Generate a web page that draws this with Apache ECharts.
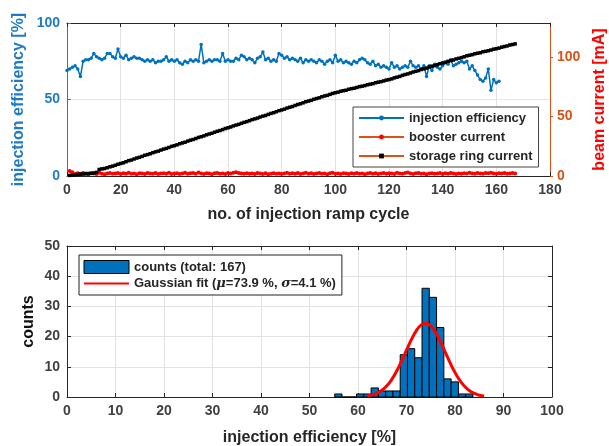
<!DOCTYPE html>
<html>
<head>
<meta charset="utf-8">
<script src="https://cdn.jsdelivr.net/npm/echarts@6/dist/echarts.min.js"></script>
<style>
  html, body { margin: 0; padding: 0; background: #fff; }
  #chart { width: 609px; height: 446px; }
</style>
</head>
<body>
<div id="chart"></div>
<script>
// injection efficiency [%], one value per ramp cycle starting at cycle 0
const efficiency = [
  69, 70, 71, 72, 70, 65, 75, 76, 76, 77,
  80, 78, 77, 76, 77, 80, 80, 78, 77, 83,
  78, 77, 79, 76, 77, 78, 77, 77, 76, 75,
  76, 75, 76, 74, 75, 75, 76, 78, 75, 76,
  75, 76, 74, 73, 75, 74, 76, 75, 76, 75,
  86, 74, 75, 76, 75, 76, 76, 75, 80, 75,
  76, 75, 75, 77, 76, 79, 78, 76, 77, 76,
  74, 77, 78, 81, 76, 77, 75, 76, 75, 80,
  79, 77, 78, 76, 77, 76, 75, 77, 74, 76,
  75, 76, 75, 74, 76, 75, 73, 75, 76, 74,
  79, 75, 76, 74, 75, 74, 73, 75, 74, 76,
  77, 76, 74, 73, 75, 72, 73, 71, 72, 71,
  70, 74, 71, 72, 70, 71, 72, 71, 75, 72,
  71, 72, 70, 72, 65, 72, 69, 73, 71, 70,
  72, 74, 73, 76, 72, 73, 74, 75, 74, 75,
  70, 72, 69, 66, 63, 62, 64, 70, 56, 63,
  61, 62
];

// booster current [mA], cycles 1..167
const boosterCurrent = [
  4.2, 3.1, 1.6, 2.3, 1.8, 2.6, 2.0, 1.5, 2.4, 2.1,
  1.7, 2.8, 1.9, 1.4, 2.2, 2.6, 1.8, 2.0, 2.5, 1.6,
  2.3, 1.9, 2.7, 1.8, 2.1, 1.5, 2.4, 2.0, 1.7, 2.6,
  2.2, 1.8, 2.5, 1.6, 2.0, 2.3, 1.9, 2.8, 1.7, 2.1,
  2.4, 1.6, 2.2, 2.7, 1.9, 2.3, 2.5, 1.8, 2.9, 2.2,
  1.7, 2.4, 2.0, 1.5, 2.3, 2.6, 1.9, 2.1, 1.6, 2.5,
  2.0, 2.8, 3.2, 2.6, 2.1, 1.8, 2.4, 1.9, 2.2, 1.7,
  2.5, 2.0, 1.6, 2.3, 1.5, 1.9, 2.4, 1.8, 2.2, 1.6,
  2.1, 2.7, 1.8, 2.3, 1.9, 2.6, 1.7, 2.2, 2.8, 1.9,
  2.4, 1.6, 2.0, 2.5, 1.8, 2.2, 1.5, 2.3, 2.7, 1.9,
  2.1, 1.7, 2.4, 2.0, 1.6, 2.3, 1.9, 2.6, 1.8, 2.2,
  1.5, 2.1, 2.5, 1.8, 2.3, 1.7, 2.0, 2.6, 1.9, 2.4,
  2.2, 1.6, 2.7, 2.0, 1.8, 2.5, 2.9, 2.1, 1.7, 2.3,
  2.6, 1.9, 2.2, 1.5, 2.0, 2.4, 1.8, 2.1, 2.5, 1.7,
  2.3, 1.9, 2.6, 2.0, 1.6, 2.2, 1.8, 2.4, 2.1, 2.7,
  2.0, 1.8, 2.5, 2.2, 1.9, 2.6, 2.3, 2.8, 2.1, 1.9,
  2.4, 2.0, 2.6, 1.8, 2.2, 2.5, 2.0
];

// storage ring current [mA], cycles 1..167
const storageCurrent = [
  0.5, 0.8, 1.0, 1.3, 1.5, 1.6, 1.9, 2.1, 2.2, 2.5,
  3.0, 5.5, 6.0, 6.3, 7.0, 7.7, 8.3, 9.0, 9.9, 10.5,
  11.1, 12.0, 12.9, 13.4, 14.3, 15.1, 15.7, 16.5, 17.4, 18.0,
  18.7, 19.6, 20.3, 20.9, 21.8, 22.6, 23.2, 24.0, 24.9, 25.5,
  26.2, 27.1, 27.8, 28.4, 29.3, 30.1, 30.7, 31.5, 32.4, 33.0,
  33.7, 34.6, 35.3, 35.9, 36.8, 37.6, 38.2, 39.0, 39.9, 40.5,
  41.2, 42.1, 42.8, 43.4, 44.3, 45.1, 45.7, 46.5, 47.4, 48.0,
  48.7, 49.6, 50.3, 50.9, 51.8, 52.6, 53.2, 54.0, 54.9, 55.5,
  56.2, 57.1, 57.8, 58.4, 59.3, 60.1, 60.7, 61.5, 62.4, 63.0,
  63.6, 64.5, 65.1, 65.7, 66.6, 67.3, 67.8, 68.6, 69.4, 70.0,
  70.5, 71.2, 71.7, 72.1, 72.9, 73.4, 73.8, 74.4, 75.1, 75.5,
  76.0, 76.7, 77.2, 77.6, 78.4, 78.9, 79.3, 79.9, 80.6, 81.0,
  81.6, 82.5, 83.1, 83.7, 84.6, 85.3, 85.8, 86.6, 87.4, 88.0,
  88.6, 89.5, 90.1, 90.7, 91.6, 92.3, 92.8, 93.6, 94.4, 95.0,
  95.6, 96.4, 97.0, 97.5, 98.4, 98.9, 99.5, 100.2, 101.0, 101.5,
  102.0, 102.7, 103.2, 103.6, 104.4, 104.8, 105.3, 105.9, 106.6, 107.0,
  107.5, 108.3, 108.8, 109.3, 110.1, 110.5, 111.0
];

// histogram of injection efficiency: left bin edge [%] and counts
const binStart = [55.2, 56.7, 58.2, 59.7, 61.2, 62.7, 64.2, 65.7, 67.2, 68.7,
  70.2, 71.7, 73.2, 74.7, 76.2, 77.7, 79.2, 80.7, 82.2];
const binCounts = [1, 0, 0, 1, 1, 3, 2, 2, 2, 14,
  16, 13, 36, 33, 23, 6, 5, 1, 1];
const binWidth = 1.5;

// Gaussian fit curve
const fitX = [62, 63, 64, 65, 66, 67, 68, 69, 70, 71, 72, 73, 74,
  75, 76, 77, 78, 79, 80, 81, 82, 83, 84, 85, 86];
const fitY = [0.4, 0.7, 1.3, 2.3, 3.8, 5.9, 8.7, 12.0, 15.5, 19.0, 21.9, 23.8, 24.4,
  23.5, 21.4, 18.3, 14.8, 11.3, 8.1, 5.5, 3.5, 2.1, 1.2, 0.6, 0.3];

const xTicksTop = [0, 180, 20];
const xTicksBottom = [0, 100, 10];

const FONT = 'Liberation Sans, Arial, sans-serif';
const BLUE = '#0072BD';
const BLUE_TXT = '#1f7cc4';
const ORANGE = '#D95319';
const DARK = '#262626';
const LABEL = '#404040';
const GRIDC = '#e2e2e2';

const countsName = 'counts (total: 167)';
const fitName = 'Gaussian fit';

const chart = echarts.init(document.getElementById('chart'));

function boxAxis(gridIndex, pos, min, max, interval, color) {
  return {
    gridIndex: gridIndex, type: 'value', position: pos, min: min, max: max, interval: interval,
    axisLine: { show: true, onZero: false, lineStyle: { color: color || DARK, width: 1 } },
    axisTick: { show: true, inside: true, length: 4, lineStyle: { color: color || DARK } },
    axisLabel: { show: false },
    splitLine: { show: false }
  };
}

const option = {
  animation: false,
  backgroundColor: '#fff',
  textStyle: { fontFamily: FONT },
  grid: [
    { left: 67, right: 59, top: 23, bottom: 270, show: false, outerBoundsMode: 'none', containLabel: false },
    { left: 67, right: 57, top: 246, bottom: 49, show: false, outerBoundsMode: 'none', containLabel: false }
  ],
  legend: [
    {
      orient: 'vertical',
      left: 353, top: 107,
      padding: [4, 6, 4, 5],
      itemWidth: 45, itemHeight: 6, itemGap: 5,
      borderColor: '#444', borderWidth: 1,
      backgroundColor: '#fff',
      textStyle: { fontFamily: FONT, fontSize: 13, fontWeight: 'bold', color: DARK, lineHeight: 14 },
      data: ['injection efficiency', 'booster current', 'storage ring current']
    },
    {
      orient: 'vertical',
      left: 79, top: 255,
      padding: [5, 6, 5, 4],
      itemWidth: 45, itemHeight: 13, itemGap: 3,
      borderColor: '#222', borderWidth: 1,
      backgroundColor: '#fff',
      textStyle: {
        fontFamily: FONT, fontSize: 13, fontWeight: 'bold', color: DARK,
        rich: {
          b: { fontFamily: FONT, fontSize: 13, fontWeight: 'bold', color: DARK },
          i: { fontFamily: 'DejaVu Serif', fontSize: 13, fontStyle: 'italic', color: DARK }
        }
      },
      formatter: function (name) {
        if (name === fitName) {
          return '{b|Gaussian fit (}{i|μ}{b|=73.9 %, }{i|σ}{b|=4.1 %)}';
        }
        return name;
      },
      data: [
        { name: countsName, icon: 'rect', itemStyle: { color: BLUE, borderColor: '#000', borderWidth: 1 } },
        { name: fitName, itemStyle: { opacity: 0 } }
      ]
    }
  ],
  xAxis: [
    {
      gridIndex: 0, type: 'value', position: 'bottom',
      min: xTicksTop[0], max: xTicksTop[1], interval: xTicksTop[2],
      name: 'no. of injection ramp cycle', nameLocation: 'middle', nameGap: 31,
      nameTextStyle: { fontFamily: FONT, fontSize: 16, fontWeight: 'bold', color: DARK },
      axisLine: { show: true, onZero: false, lineStyle: { color: DARK } },
      axisTick: { show: true, inside: true, length: 4, lineStyle: { color: DARK } },
      axisLabel: { fontFamily: FONT, fontSize: 14, fontWeight: 'bold', color: LABEL, margin: 7 },
      splitLine: { show: true, lineStyle: { color: GRIDC } }
    },
    boxAxis(0, 'top', xTicksTop[0], xTicksTop[1], xTicksTop[2]),
    {
      gridIndex: 1, type: 'value', position: 'bottom',
      min: xTicksBottom[0], max: xTicksBottom[1], interval: xTicksBottom[2],
      name: 'injection efficiency [%]', nameLocation: 'middle', nameGap: 33,
      nameTextStyle: { fontFamily: FONT, fontSize: 16, fontWeight: 'bold', color: DARK },
      axisLine: { show: true, onZero: false, lineStyle: { color: DARK } },
      axisTick: { show: true, inside: true, length: 4, lineStyle: { color: DARK } },
      axisLabel: { fontFamily: FONT, fontSize: 14, fontWeight: 'bold', color: LABEL, margin: 7 },
      splitLine: { show: true, lineStyle: { color: GRIDC } }
    },
    boxAxis(1, 'top', xTicksBottom[0], xTicksBottom[1], xTicksBottom[2])
  ],
  yAxis: [
    {
      gridIndex: 0, type: 'value', position: 'left', min: 0, max: 100, interval: 50,
      name: 'injection efficiency [%]', nameLocation: 'middle', nameGap: 40, nameRotate: 90,
      nameMoveOverlap: false,
      nameTextStyle: { fontFamily: FONT, fontSize: 16, fontWeight: 'bold', color: BLUE_TXT },
      axisLine: { show: true, onZero: false, lineStyle: { color: BLUE_TXT } },
      axisTick: { show: true, inside: true, length: 4, lineStyle: { color: BLUE_TXT } },
      axisLabel: { fontFamily: FONT, fontSize: 14, fontWeight: 'bold', color: BLUE_TXT, margin: 7 },
      splitLine: { show: true, lineStyle: { color: '#dbe9f4' } }
    },
    {
      gridIndex: 0, type: 'value', position: 'right', min: 0, max: 128.6, interval: 50,
      name: 'beam current [mA]', nameLocation: 'middle', nameGap: 42, nameRotate: 90,
      nameMoveOverlap: false,
      nameTextStyle: { fontFamily: FONT, fontSize: 16, fontWeight: 'bold', color: '#ff0000' },
      axisLine: { show: true, onZero: false, lineStyle: { color: ORANGE } },
      axisTick: { show: true, inside: false, length: 3, lineStyle: { color: ORANGE } },
      axisLabel: {
        fontFamily: FONT, fontSize: 14, fontWeight: 'bold', color: ORANGE, margin: 7,
        showMaxLabel: false
      },
      splitLine: { show: false }
    },
    {
      gridIndex: 1, type: 'value', position: 'left', min: 0, max: 50, interval: 10,
      name: 'counts', nameLocation: 'middle', nameGap: 30, nameRotate: 90,
      nameMoveOverlap: false,
      nameTextStyle: { fontFamily: FONT, fontSize: 16, fontWeight: 'bold', color: '#111' },
      axisLine: { show: true, onZero: false, lineStyle: { color: DARK } },
      axisTick: { show: true, inside: true, length: 4, lineStyle: { color: DARK } },
      axisLabel: { fontFamily: FONT, fontSize: 14, fontWeight: 'bold', color: LABEL, margin: 7 },
      splitLine: { show: true, lineStyle: { color: GRIDC } }
    },
    boxAxis(1, 'right', 0, 50, 10)
  ],
  series: [
    {
      name: 'injection efficiency', type: 'line', xAxisIndex: 0, yAxisIndex: 0,
      data: efficiency.map(function (v, i) { return [i, v]; }),
      symbol: 'circle', symbolSize: 3.5, showSymbol: true,
      lineStyle: { color: BLUE, width: 1.5 },
      itemStyle: { color: BLUE }
    },
    {
      name: 'booster current', type: 'line', xAxisIndex: 0, yAxisIndex: 1,
      data: boosterCurrent.map(function (v, i) { return [i + 1, v]; }),
      symbol: 'circle', symbolSize: 4, showSymbol: true,
      lineStyle: { color: ORANGE, width: 1.5 },
      itemStyle: { color: '#ff0000' }
    },
    {
      name: 'storage ring current', type: 'line', xAxisIndex: 0, yAxisIndex: 1,
      data: storageCurrent.map(function (v, i) { return [i + 1, v]; }),
      symbol: 'rect', symbolSize: 3.5, showSymbol: true,
      lineStyle: { color: ORANGE, width: 1.5 },
      itemStyle: { color: '#000' }
    },
    {
      name: countsName, type: 'custom', xAxisIndex: 2, yAxisIndex: 2,
      data: binStart.map(function (s, i) { return [s, s + binWidth, binCounts[i]]; }),
      encode: { x: [0, 1], y: 2 },
      itemStyle: { color: BLUE },
      renderItem: function (params, api) {
        const p0 = api.coord([api.value(0), api.value(2)]);
        const p1 = api.coord([api.value(1), 0]);
        return {
          type: 'rect',
          shape: { x: p0[0], y: p0[1], width: p1[0] - p0[0], height: p1[1] - p0[1] },
          style: { fill: BLUE, stroke: '#000', lineWidth: 1 }
        };
      }
    },
    {
      name: fitName, type: 'line', xAxisIndex: 2, yAxisIndex: 2,
      data: fitX.map(function (x, i) { return [x, fitY[i]]; }),
      symbol: 'none', smooth: true, z: 5,
      lineStyle: { color: '#ff0000', width: 3 },
      itemStyle: { color: '#ff0000' }
    }
  ]
};

chart.setOption(option);
</script>
</body>
</html>
